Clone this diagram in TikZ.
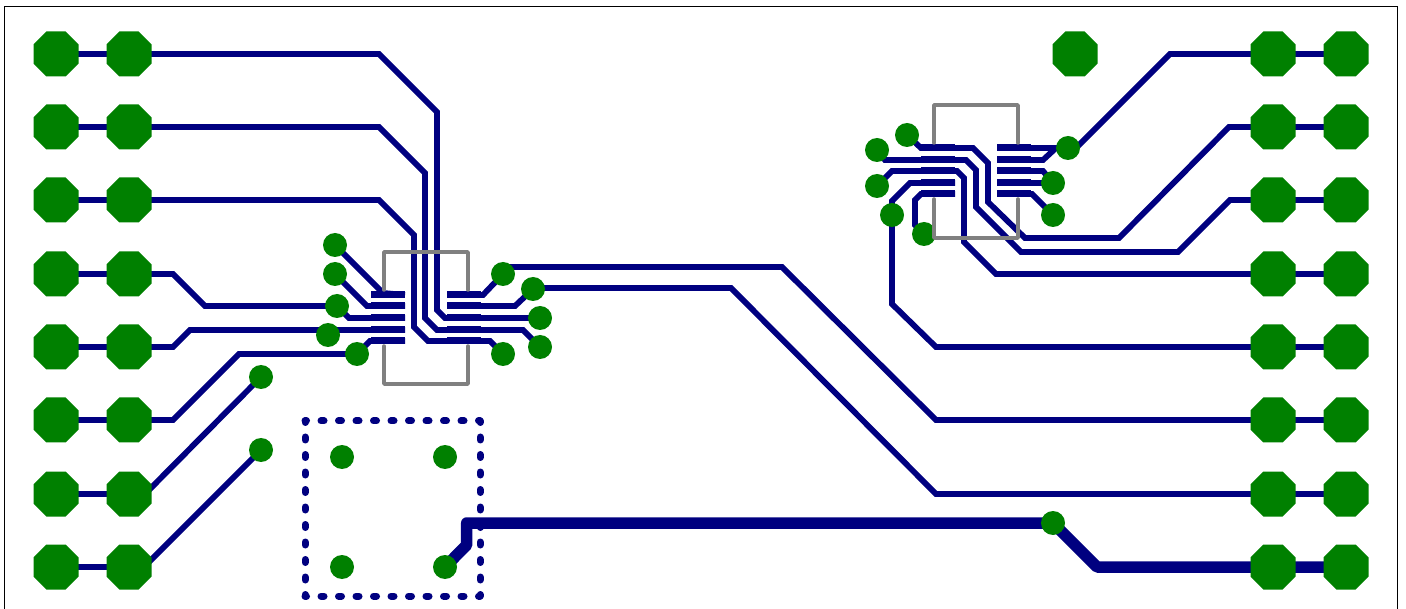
\documentclass[tikz,border=0pt]{standalone}
\definecolor{trace}{RGB}{0,0,128}
\definecolor{padgreen}{RGB}{0,128,0}
\definecolor{silk}{RGB}{128,128,128}
\newcommand{\octopad}[1]{\fill[padgreen,shift={(#1)}] (-22.5,-9.6) -- (-9.6,-22.5) -- (9.6,-22.5) -- (22.5,-9.6) -- (22.5,9.6) -- (9.6,22.5) -- (-9.6,22.5) -- (-22.5,9.6) -- cycle;}
\tikzset{
  via/.style={circle,minimum size=24pt,inner sep=0pt,outer sep=0pt,fill=padgreen},
  wire/.style={draw=trace,line width=5.8pt,line join=miter},
  power/.style={draw=trace,line width=11.5pt,line join=round},
  smd/.style={draw=trace,line width=7pt},
  outline/.style={draw=silk,line width=3.5pt,line join=round,line cap=round},
  dotted edge/.style={draw=trace,line width=7pt,line cap=round,dash pattern=on 3pt off 14.5pt,dash phase=1.5pt},
}
\begin{document}
\begin{tikzpicture}[x=1pt,y=-1pt]
\useasboundingbox (0,0) rectangle (1406,609);
\fill[white] (0,0) rectangle (1406,609);
\draw[black,line width=1.2pt] (4.7,620) -- (4.7,6.2) -- (1397.8,6.2) -- (1397.8,620);
% pads
\foreach \n/\y in {1/54,2/127,3/200,4/274,5/347,6/420,7/494,8/567}{
  \coordinate (LA\n) at (56,\y);
  \coordinate (LB\n) at (129,\y);
  \coordinate (RA\n) at (1273,\y);
  \coordinate (RB\n) at (1346,\y);
}
\coordinate (X) at (1075,54);
% via positions
\foreach \n/\x/\y in {a/335/245,b/335/274,c/337/306,d/328/335,e/357/354,f/503/274,g/533/289,h/540/318,i/540/347,j/503/354,k/261/377,l/261/450,
  m/342/457,n/445/457,o/342/567,p/445/567,q/1053/523,
  r/907/135,s/877/150,t/877/186,u/892/215,v/924/234,w/1068/148,y/1053/183,z/1053/215}{
  \coordinate (V\n) at (\x,\y);
}
% SMD pads, first component
\foreach \n/\y in {1/295,2/306,3/318,4/330,5/341}{
  \coordinate (PL\n) at (371,\y); \coordinate (PLi\n) at (405,\y);
  \coordinate (PR\n) at (481,\y); \coordinate (PRi\n) at (447,\y);
  \draw[smd] (PL\n) -- (PLi\n);
  \draw[smd] (PRi\n) -- (PR\n);
}
% SMD pads, second component
\foreach \n/\y in {1/148,2/160,3/171,4/183,5/194}{
  \coordinate (QL\n) at (921,\y); \coordinate (QLi\n) at (955,\y);
  \coordinate (QR\n) at (1031,\y); \coordinate (QRi\n) at (997,\y);
  \draw[smd] (QL\n) -- (QLi\n);
  \draw[smd] (QRi\n) -- (QR\n);
}
% row links
\foreach \n in {1,...,7}{\draw[wire] (RA\n) -- (RB\n);}
% left side
\draw[wire] (LA1) -- (379,54) -- (437,112) -- (437,310) -- (445,318) -- (Vh);
\draw[wire] (LA2) -- (379,127) -- (425,173) -- (425,318) -- (437,330) -- (523,330) -- (Vi);
\draw[wire] (LA3) -- (379,200) -- (414,235) -- (414,327) -- (428,341) -- (490,341) -- (Vj);
\draw[wire] (LA4) -- (173,274) -- (205,306) -- (Vc);
\draw[wire] (Vc) -- (349,318) -- (PLi3);
\draw[wire] (LA5) -- (173,347) -- (190,330) -- (PLi4);
\draw[wire] (LA6) -- (173,420) -- (239,354) -- (Ve);
\draw[wire] (Ve) -- (370,341) -- (PLi5);
\draw[wire] (LA7) -- (145,494) -- (Vk);
\draw[wire] (LA8) -- (144,567) -- (Vl);
\draw[wire] (Va) -- (383,293) -- (PLi1);
\draw[wire] (Vb) -- (367,306) -- (PLi2);
\draw[wire] (Vf) -- (483,295) -- (PRi1);
\draw[wire] (Vg) -- (515,306) -- (PRi2);
\draw[wire] (Vf) -- (510,267) -- (782,267) -- (936,420) -- (RA6);
\draw[wire] (Vg) -- (540,288) -- (731,288) -- (936,494) -- (RA7);
% right side
\draw[wire] (Vr) -- (921,148) -- (973,148) -- (988,163) -- (988,202) -- (1025,238) -- (1119,238) -- (1229,127) -- (RA2);
\draw[wire] (Vs) -- (885,160) -- (966,160) -- (976,170) -- (976,207) -- (1021,252) -- (1178,252) -- (1230,200) -- (RA3);
\draw[wire] (Vt) -- (892,171) -- (957,171) -- (964,178) -- (964,242) -- (996,274) -- (RA4);
\draw[wire] (Vu) -- (892,304) -- (936,347) -- (RA5);
\draw[wire] (Vu) -- (892,201) -- (910,183) -- (QLi4);
\draw[wire] (Vv) -- (915,225) -- (915,200) -- (921,194) -- (QLi5);
\draw[wire] (QRi1) -- (Vw);
\draw[wire] (Vw) -- (1076,148) -- (1170,54) -- (RA1);
\draw[wire] (QR2) -- (1043,160) -- (1056,148);
\draw[wire] (QR3) -- (1043,171) -- (Vy);
\draw[wire] (QR4) -- (Vy);
\draw[wire] (QR5) -- (1032,194) -- (Vz);
% power trace
\draw[power] (RB8) -- (1097,567) -- (Vq);
\draw[power] (Vq) -- (466.7,523) -- (466.7,545) -- (Vp);
% dotted square
\coordinate (S1) at (305,421); \coordinate (S2) at (480,421);
\coordinate (S3) at (480,596); \coordinate (S4) at (305,596);
\draw[dotted edge] (S1) -- (S2);
\draw[dotted edge] (S2) -- (S3);
\draw[dotted edge] (S3) -- (S4);
\draw[dotted edge] (S4) -- (S1);
% pad shapes
\foreach \n in {1,...,8}{
  \octopad{LA\n}
  \octopad{LB\n}
  \octopad{RA\n}
  \octopad{RB\n}
}
\octopad{X}
\foreach \n in {a,b,c,d,e,f,g,h,i,j,k,l,m,n,o,p,q,r,s,t,u,v,w,y,z}{
  \node[via] (n\n) at (V\n) {};
}
% component outlines
\draw[outline] (384,290) -- (384,252) -- (468,252) -- (468,290);
\draw[outline] (384,346) -- (384,384) -- (468,384) -- (468,346);
\draw[outline] (934,143) -- (934,105) -- (1018,105) -- (1018,143);
\draw[outline] (934,199) -- (934,238) -- (1018,238) -- (1018,199);
\end{tikzpicture}
\end{document}
